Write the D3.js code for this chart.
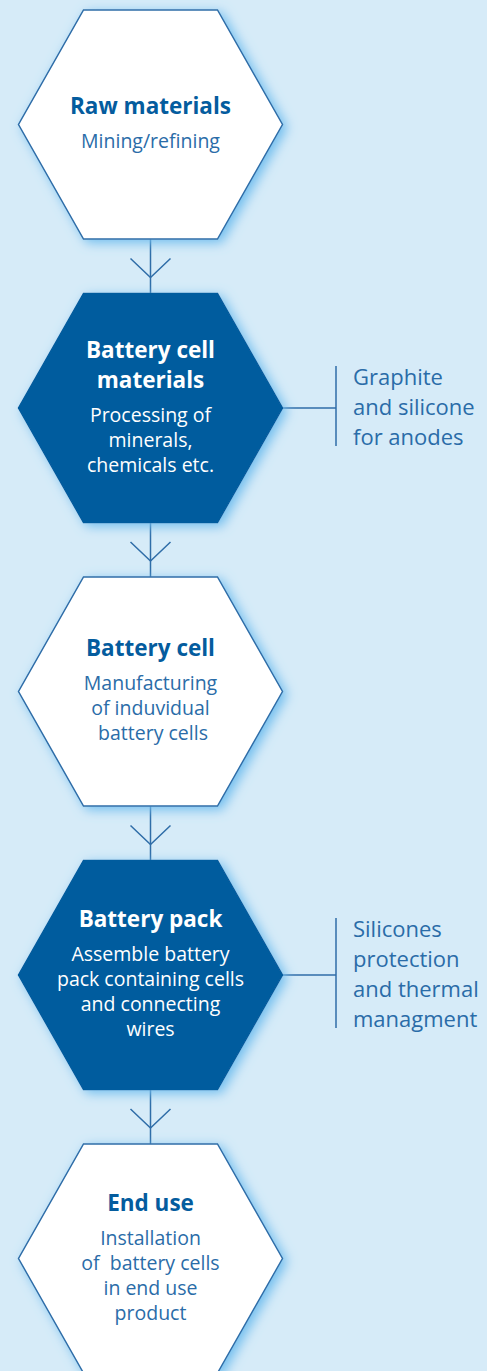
<!DOCTYPE html>
<html>
<head>
<meta charset="utf-8">
<script src="https://cdn.jsdelivr.net/npm/d3@7"></script>
<style>
  html, body { margin: 0; padding: 0; background: #d6ebf8; }
  svg { display: block; }
</style>
</head>
<body>
<div id="chart"></div>
<script>
// ######################## Data #############################################
const steps = ["Raw materials", "Battery cell materials", "Battery cell", "Battery pack", "End use"];
const titleLines = [
    ["Raw materials"],
    ["Battery cell", "materials"],
    ["Battery cell"],
    ["Battery pack"],
    ["End use"]
];
const subLines = [
    ["Mining/refining"],
    ["Processing of", "minerals,", "chemicals etc."],
    ["Manufacturing", "of induvidual", "\u00a0battery cells"],
    ["Assemble battery", "pack containing cells", "and connecting", "wires"],
    ["Installation", "of \u00a0battery cells", "in end use", "product"]
];
const darkSteps = [false, true, false, true, false];
const noteSteps = [1, 3];
const noteLines = [
    ["Graphite", "and silicone", "for anodes"],
    ["Silicones", "protection", "and thermal", "managment"]
];

// ######################## Layout #############################################
const width = 487, height = 1371;
const cx = 150.5;
const halfW = 132, topHalf = 67, halfH = 114.5;
const titleLH = 30, subLH = 25, titleGap = 34, noteLH = 30;
const darkBlue = "#045c9e", midBlue = "#2a6ca8", lineBlue = "#2f6da8";

const y = d3.scaleLinear()
    .domain([0, steps.length - 1])
    .range([124.5, 1258.5]);

const svg = d3.select("#chart")
    .append("svg")
    .attr("width", width)
    .attr("height", height);

svg.append("rect")
    .attr("width", width)
    .attr("height", height)
    .attr("fill", "#d6ebf8");

const defs = svg.append("defs");
const glow = defs.append("filter")
    .attr("id", "glow")
    .attr("x", "-20%").attr("y", "-20%")
    .attr("width", "140%").attr("height", "140%");
glow.append("feDropShadow")
    .attr("dx", 4).attr("dy", 3)
    .attr("stdDeviation", 6)
    .attr("flood-color", "#6fbdee")
    .attr("flood-opacity", 1);

const hexPath = cy => d3.line()([
    [cx - topHalf, cy - halfH],
    [cx + topHalf, cy - halfH],
    [cx + halfW, cy],
    [cx + topHalf, cy + halfH],
    [cx - topHalf, cy + halfH],
    [cx - halfW, cy]
]) + "Z";

// connectors between hexagons (drawn first, hexes cover the ends)
const links = d3.range(steps.length - 1);
const conn = svg.append("g")
    .attr("fill", "none")
    .attr("stroke", lineBlue)
    .attr("stroke-width", 1.5);

conn.selectAll("line.link")
    .data(links)
    .join("line")
    .attr("class", "link")
    .attr("x1", cx).attr("x2", cx)
    .attr("y1", i => y(i) + halfH)
    .attr("y2", i => y(i + 1) - halfH);

conn.selectAll("path.chev")
    .data(links)
    .join("path")
    .attr("class", "chev")
    .attr("d", i => {
        const tip = y(i + 1) - halfH - 16;
        return d3.line()([[cx - 20, tip - 19], [cx, tip], [cx + 20, tip - 19]]);
    });

// side notes
const notes = svg.append("g").selectAll("g")
    .data(noteSteps.map((s, k) => ({ step: s, lines: noteLines[k] })))
    .join("g");

notes.append("line")
    .attr("x1", cx + halfW).attr("x2", 336)
    .attr("y1", d => y(d.step)).attr("y2", d => y(d.step))
    .attr("stroke", lineBlue).attr("stroke-width", 1.5);

const noteFirst = d => y(d.step) + 7 - (d.lines.length - 1) * noteLH / 2;

notes.append("line")
    .attr("x1", 336).attr("x2", 336)
    .attr("y1", d => noteFirst(d) - 19)
    .attr("y2", d => noteFirst(d) + (d.lines.length - 1) * noteLH + 1)
    .attr("stroke", lineBlue).attr("stroke-width", 1.5);

notes.append("text")
    .attr("font-family", "'Open Sans', sans-serif")
    .attr("font-size", 22)
    .attr("fill", midBlue)
    .selectAll("tspan")
    .data(d => d.lines.map((t, j) => ({ t, y: noteFirst(d) + j * noteLH })))
    .join("tspan")
    .attr("x", 353)
    .attr("y", d => d.y)
    .text(d => d.t);

// hexagons
const hexes = svg.append("g").selectAll("g")
    .data(steps.map((s, i) => ({ i, dark: darkSteps[i], titles: titleLines[i], subs: subLines[i] })))
    .join("g");

hexes.append("path")
    .attr("d", d => hexPath(y(d.i)))
    .attr("fill", d => d.dark ? darkBlue : "#ffffff")
    .attr("stroke", d => d.dark ? darkBlue : lineBlue)
    .attr("stroke-width", 1.5)
    .attr("stroke-linejoin", "miter")
    .attr("filter", "url(#glow)");

// text block vertically centred in the hexagon
const blockStart = d => {
    const h = (d.titles.length - 1) * titleLH + titleGap + (d.subs.length - 1) * subLH;
    return y(d.i) - h / 2 + 6.5;
};

hexes.append("text")
    .attr("text-anchor", "middle")
    .attr("font-family", "'Open Sans', sans-serif")
    .attr("font-weight", 700)
    .attr("font-size", 22.5)
    .attr("fill", d => d.dark ? "#ffffff" : darkBlue)
    .selectAll("tspan")
    .data(d => d.titles.map((t, j) => ({ t, y: blockStart(d) + j * titleLH })))
    .join("tspan")
    .attr("x", cx)
    .attr("y", d => d.y)
    .text(d => d.t);

hexes.append("text")
    .attr("text-anchor", "middle")
    .attr("font-family", "'Open Sans', sans-serif")
    .attr("font-size", 19.5)
    .attr("fill", d => d.dark ? "#ffffff" : midBlue)
    .selectAll("tspan")
    .data(d => {
        const s = blockStart(d) + (d.titles.length - 1) * titleLH + titleGap;
        return d.subs.map((t, j) => ({ t, y: s + j * subLH }));
    })
    .join("tspan")
    .attr("x", cx)
    .attr("y", d => d.y)
    .text(d => d.t);
</script>
</body>
</html>
